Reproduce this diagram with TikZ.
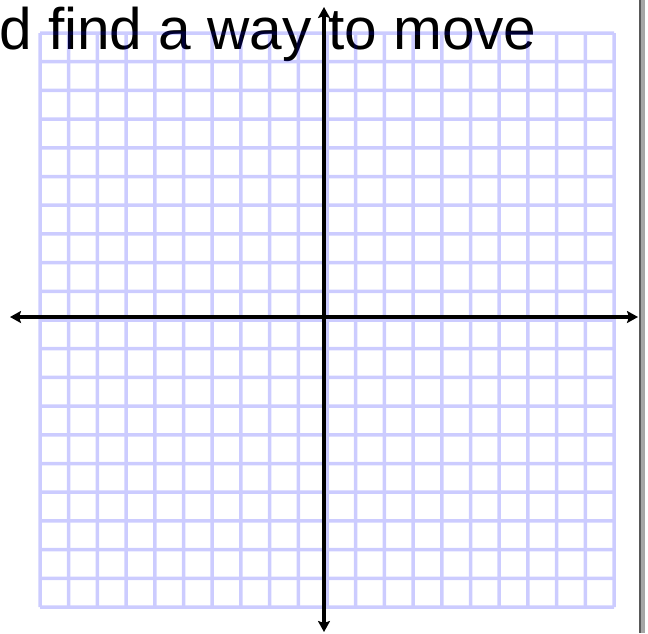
\documentclass[tikz,border=0pt]{standalone}
\usepackage{fontspec}
\setmainfont{Liberation Sans}
\usetikzlibrary{arrows.meta}
\begin{document}
\begin{tikzpicture}[x=1pt,y=-1pt,
  gridline/.style={draw=blue, line width=3.5pt},
  axisline/.style={draw=black, line width=3.6pt, -{Stealth[length=11pt,width=12pt,inset=2pt]}},
  titletext/.style={font=\fontsize{58.6}{60}\selectfont, inner sep=0pt, anchor=base west}]
\useasboundingbox[fill=white] (0,0) rectangle (648,633);
% title text
\node[titletext] (title) at (-1,49) {d find a way to move};
% grid
\begin{scope}[transparency group, opacity=0.2]
\foreach \i in {0,...,20} {
  \draw[gridline] ({40+28.7*\i},33) -- ({40+28.7*\i},607);
  \draw[gridline] (40,{33+28.7*\i}) -- (614,{33+28.7*\i});
}
\end{scope}
% axes
\coordinate (origin) at (324,317);
\coordinate (xleft) at (10,317);
\coordinate (xright) at (638,317);
\coordinate (ytop) at (324,7);
\coordinate (ybottom) at (324,632);
\draw[axisline] (origin) -- (xleft);
\draw[axisline] (origin) -- (xright);
\draw[axisline] (origin) -- (ytop);
\draw[axisline] (origin) -- (ybottom);
% right edge bar
\fill[black!35] (640,0) rectangle (645,633);
\fill[black!65] (639,0) rectangle (640.6,633);
\end{tikzpicture}
\end{document}
